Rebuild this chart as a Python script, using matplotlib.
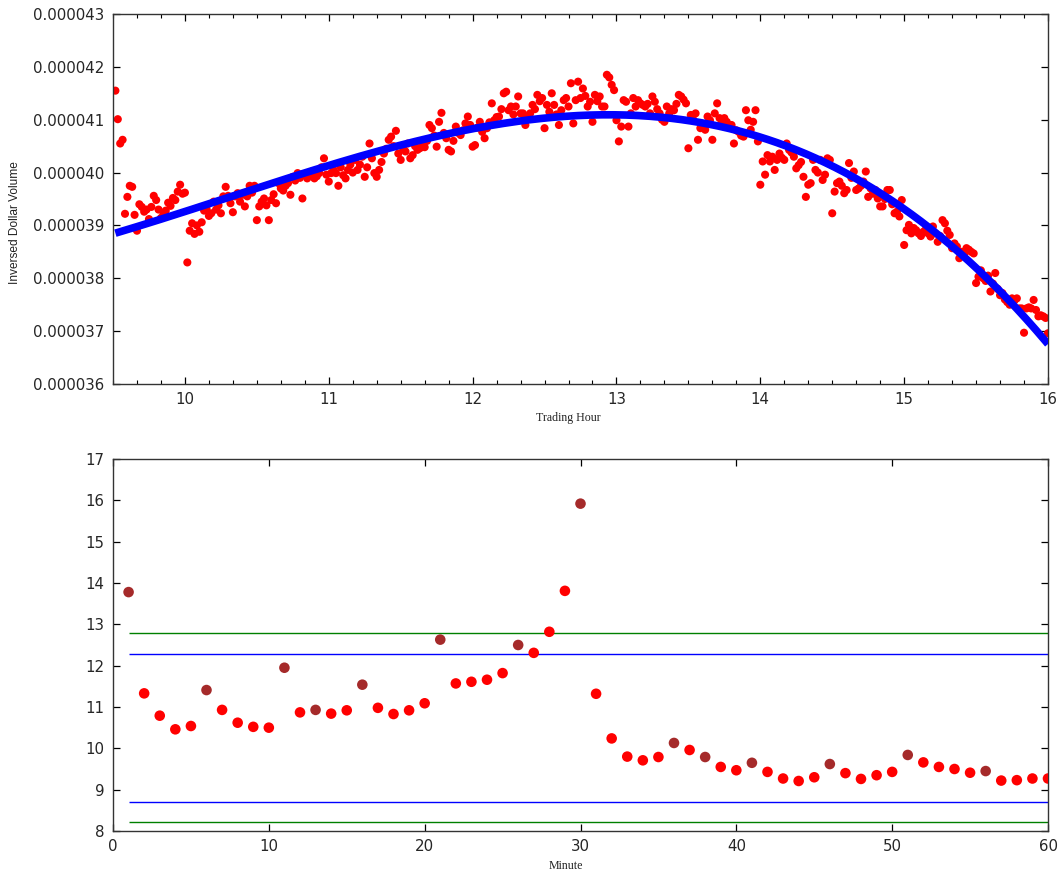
import numpy as np
import matplotlib
matplotlib.use("Agg")
import matplotlib.pyplot as plt
from matplotlib.ticker import MultipleLocator, FuncFormatter

# ---------------- data ----------------
# Top panel: inversed dollar volume per trading minute (units of 1e-6)
SCALE = 1e-6
inv_dollar_volume = [
    41.55, 41.01, 40.55, 40.62, 39.22, 39.54, 39.75, 39.73, 39.20, 38.90,
    39.40, 39.35, 39.26, 39.30, 39.12, 39.35, 39.56, 39.48, 39.30, 39.14,
    39.20, 39.28, 39.43, 39.37, 39.52, 39.48, 39.64, 39.77, 39.60, 39.62,
    38.30, 38.90, 39.04, 38.84, 39.00, 38.88, 39.06, 39.28, 39.32, 39.18,
    39.23, 39.45, 39.30, 39.38, 39.23, 39.55, 39.73, 39.56, 39.42, 39.25,
    39.55, 39.61, 39.45, 39.58, 39.36, 39.55, 39.75, 39.62, 39.75, 39.10,
    39.36, 39.45, 39.51, 39.38, 39.10, 39.48, 39.59, 39.42, 39.80, 39.70,
    39.66, 39.75, 39.80, 39.58, 39.92, 39.85, 39.99, 39.90, 39.51, 39.95,
    39.89, 39.95, 40.02, 39.89, 39.93, 39.99, 40.10, 40.27, 39.96, 39.83,
    39.99, 40.05, 39.99, 39.75, 40.10, 39.95, 39.89, 40.05, 40.15, 40.00,
    40.24, 40.05, 40.15, 40.30, 39.92, 40.10, 40.55, 40.27, 39.99, 39.92,
    40.05, 40.20, 40.36, 40.45, 40.62, 40.68, 40.50, 40.79, 40.36, 40.24,
    40.46, 40.40, 40.55, 40.27, 40.33, 40.50, 40.43, 40.46, 40.55, 40.48,
    40.60, 40.90, 40.84, 40.70, 40.49, 40.96, 41.13, 40.75, 40.65, 40.43,
    40.40, 40.60, 40.87, 40.75, 40.71, 40.80, 40.93, 41.06, 40.90, 40.49,
    40.52, 40.85, 40.96, 40.77, 40.65, 40.84, 40.95, 41.31, 40.99, 41.05,
    41.06, 41.20, 41.50, 41.53, 41.18, 41.25, 41.10, 41.25, 41.44, 41.12,
    41.12, 40.90, 41.05, 41.12, 41.28, 41.20, 41.47, 41.35, 41.41, 40.84,
    41.28, 41.15, 41.50, 41.28, 41.10, 40.90, 41.18, 41.37, 41.41, 41.25,
    41.69, 40.93, 41.37, 41.72, 41.41, 41.59, 41.45, 41.25, 41.34, 40.96,
    41.47, 41.35, 41.44, 41.25, 41.25, 41.85, 41.80, 41.66, 41.56, 40.99,
    40.59, 40.87, 41.37, 41.34, 40.87, 41.12, 41.41, 41.25, 41.37, 41.31,
    41.28, 41.25, 41.30, 41.12, 41.44, 41.34, 41.20, 41.12, 41.00, 40.96,
    41.25, 41.12, 41.20, 41.18, 41.30, 41.47, 41.44, 41.38, 41.31, 40.46,
    41.09, 41.00, 41.12, 40.62, 40.84, 40.90, 40.81, 41.06, 40.99, 40.62,
    41.12, 41.31, 41.03, 40.95, 41.03, 40.96, 40.85, 40.90, 40.55, 40.80,
    40.77, 40.70, 40.68, 41.18, 40.99, 40.81, 40.96, 41.18, 40.59, 39.77,
    40.21, 39.96, 40.33, 40.21, 40.30, 40.05, 40.24, 40.36, 40.28, 40.24,
    40.55, 40.43, 40.38, 40.30, 40.08, 40.14, 40.20, 39.92, 39.54, 39.77,
    39.80, 40.24, 40.05, 40.00, 40.24, 39.86, 39.96, 40.27, 40.24, 39.23,
    39.64, 39.80, 39.83, 39.75, 39.61, 39.67, 40.18, 39.90, 40.02, 39.67,
    39.70, 39.75, 39.83, 40.02, 39.54, 39.70, 39.60, 39.67, 39.51, 39.36,
    39.36, 39.50, 39.67, 39.67, 39.40, 39.23, 39.26, 39.17, 39.48, 38.63,
    38.91, 39.01, 38.85, 38.95, 38.91, 38.85, 38.80, 38.88, 38.92, 38.85,
    38.79, 38.98, 38.85, 38.69, 38.80, 39.10, 39.04, 38.90, 38.82, 38.57,
    38.66, 38.60, 38.38, 38.50, 38.45, 38.57, 38.54, 38.50, 38.47, 37.91,
    38.03, 38.15, 38.00, 37.95, 38.05, 37.75, 37.90, 38.10, 37.80, 37.68,
    37.72, 37.60, 37.55, 37.50, 37.62, 37.58, 37.62, 37.43, 37.43, 36.97,
    37.43, 37.45, 37.43, 37.59, 37.40, 37.28, 37.30, 37.28, 37.25, 36.96,
]
session_start_hour = 9.5
minutes_per_hour = 60
fit_degree = 3
fit_skip_opening_minutes = 5   # opening-auction minutes left out of the trend fit

# Bottom panel: value per minute (1..60) with highlighted minutes
minutes = list(range(1, 61))
minute_values = [
    13.78, 11.33, 10.79, 10.46, 10.54, 11.41, 10.93, 10.62, 10.52, 10.50,
    11.95, 10.87, 10.93, 10.84, 10.92, 11.54, 10.98, 10.83, 10.92, 11.09,
    12.63, 11.57, 11.61, 11.66, 11.82, 12.50, 12.31, 12.82, 13.81, 15.92,
    11.32, 10.24, 9.80, 9.71, 9.79, 10.13, 9.96, 9.79, 9.55, 9.47,
    9.65, 9.43, 9.27, 9.21, 9.30, 9.62, 9.40, 9.26, 9.35, 9.43,
    9.84, 9.66, 9.55, 9.50, 9.41, 9.45, 9.22, 9.23, 9.27, 9.27,
]
highlight_minutes = [1, 6, 11, 13, 16, 21, 26, 30, 36, 38, 41, 46, 51, 56]
outer_band = [8.21, 12.80]   # green lines
inner_band = [8.70, 12.28]   # blue lines

# ---------------- figure ----------------
plt.rcParams['font.family'] = ['DejaVu Sans']
fig = plt.figure(figsize=(10.6, 8.75), dpi=100, facecolor='white')

L, R = 113 / 1060, 1048 / 1060
ax1 = fig.add_axes([L, 1 - 384 / 875, R - L, 370 / 875])
ax2 = fig.add_axes([L, 1 - 831 / 875, R - L, 372 / 875])

tick_color = '#262626'
for ax in (ax1, ax2):
    ax.tick_params(which='both', direction='in', top=True, right=True,
                   labelsize=10.8, labelcolor=tick_color, color='black', pad=6)
    ax.tick_params(which='major', length=5, width=0.9)
    ax.tick_params(which='minor', length=3, width=0.8)
    for s in ax.spines.values():
        s.set_linewidth(1.0)
        s.set_color('#333333')

# --- top panel ---
y_top = np.array(inv_dollar_volume) * SCALE
x_top = session_start_hour + (np.arange(len(y_top)) + 1) / minutes_per_hour
k = fit_skip_opening_minutes
coef = np.polyfit(x_top[k:], y_top[k:], fit_degree)
fit = np.polyval(coef, x_top)

ax1.scatter(x_top, y_top, s=34, color='red', edgecolors='none', zorder=2)
ax1.plot(x_top, fit, color='blue', linewidth=5.5, zorder=3, solid_capstyle='butt')
ax1.set_xlim(9.5, 16)
ax1.set_ylim(36e-6, 43e-6)
ax1.xaxis.set_major_locator(MultipleLocator(1))
ax1.xaxis.set_minor_locator(MultipleLocator(1 / 6))
ax1.yaxis.set_major_locator(MultipleLocator(1e-6))
ax1.yaxis.set_major_formatter(FuncFormatter(lambda v, p: f"{v:.6f}"))
ax1.set_ylabel('Inversed Dollar Volume', fontsize=8.6,
               family=['Liberation Sans', 'DejaVu Sans'], color='#222222')
ax1.yaxis.set_label_coords(-0.098, 0.435)
ax1.set_xlabel('Trading Hour', fontsize=8.6,
               family=['Liberation Serif', 'DejaVu Serif'], color='#222222')
ax1.xaxis.set_label_coords(0.487, -0.075)

# --- bottom panel ---
hl = set(highlight_minutes)
colors = ['#a52a2a' if m in hl else 'red' for m in minutes]
ax2.scatter(minutes, minute_values, s=58, c=colors, edgecolors='none', zorder=3)
for v in outer_band:
    ax2.hlines(v, minutes[0], minutes[-1], colors='green', linewidth=1.0, zorder=2)
for v in inner_band:
    ax2.hlines(v, minutes[0], minutes[-1], colors='blue', linewidth=1.0, zorder=2)
ax2.set_xlim(0, 60)
ax2.set_ylim(8, 17)
ax2.xaxis.set_major_locator(MultipleLocator(10))
ax2.yaxis.set_major_locator(MultipleLocator(1))
ax2.set_xlabel('Minute', fontsize=8.6,
               family=['Liberation Serif', 'DejaVu Serif'], color='#222222')
ax2.xaxis.set_label_coords(0.484, -0.078)

fig.savefig('out.png', dpi=100, facecolor='white')
